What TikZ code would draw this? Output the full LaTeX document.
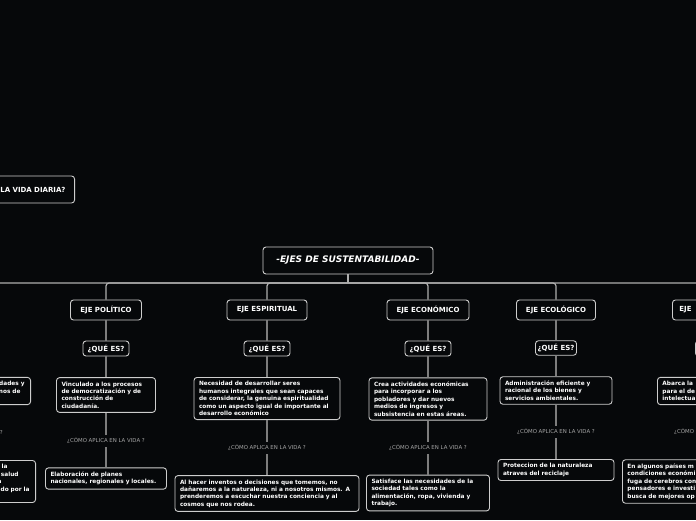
\documentclass[tikz,border=0pt]{standalone}
\usepackage{fontspec}
\setmainfont{DejaVu Sans}
\definecolor{fondo}{RGB}{6,8,10}
\definecolor{borde}{RGB}{205,205,205}
\definecolor{linea}{RGB}{125,125,125}
\definecolor{etiq}{RGB}{165,165,165}

\begin{document}
\begin{tikzpicture}[x=1pt,y=-1pt,
  caja/.style={draw=borde,line width=0.9pt,rounded corners=3pt,text=white,fill=fondo},
  titulo/.style={caja,font=\fontsize{9}{10}\selectfont\bfseries\itshape,minimum width=170pt,minimum height=27pt,inner xsep=0pt},
  eje/.style={caja,font=\fontsize{7}{8}\selectfont\bfseries,minimum height=20pt,inner xsep=0pt},
  quees/.style={caja,font=\fontsize{7}{8}\selectfont\bfseries,minimum height=15pt,minimum width=46pt,inner xsep=0pt},
  texto/.style={caja,font=\fontsize{5.8}{7.4}\selectfont\bfseries,align=left,inner xsep=5pt,inner ysep=4pt},
  aplica/.style={text=etiq,font=\fontsize{5.4}{6}\selectfont,inner sep=3pt},
  rama/.style={draw=linea,line width=1.2pt},
  bus/.style={draw=borde!85!black,line width=1.2pt,rounded corners=3pt}]
\useasboundingbox (0,0) rectangle (696,520);
\fill[fondo] (0,0) rectangle (696,520);
\clip (0,0) rectangle (696,520);

% titulo y pregunta de arriba
\node[caja,font=\fontsize{7}{8}\selectfont\bfseries,text width=100pt,align=right,
  inner xsep=9pt,minimum height=27pt,anchor=east] (vida) at (75,189.5) {LA VIDA DIARIA?};
\node[titulo] (ttl) at (348,260.5) {-EJES DE SUSTENTABILIDAD-};
\coordinate (hub) at (348,283);
\coordinate (lcol) at (-50,300);

% eje politico
\node[eje,minimum width=71pt] (ejePol) at (106,310) {EJE POLÍTICO};
\node[quees] (quePol) at (106,348.5) {¿QUÉ ES?};
\node[texto,text width=89pt] (defPol) at (106,395) {Vinculado a los procesos\\de democratización y de\\construcción de\\ciudadanía.};
\node[aplica] (lblPol) at (106,441) {¿CÓMO APLICA EN LA VIDA ?};
\node[texto,text width=111pt] (appPol) at (106,478.5) {Elaboración de planes\\nacionales, regionales y locales.};

% eje espiritual
\node[eje,minimum width=80pt] (ejeEsp) at (267,310) {EJE ESPIRITUAL};
\node[quees] (queEsp) at (267,348.5) {¿QUÉ ES?};
\node[texto,text width=136pt] (defEsp) at (267,398.5) {Necesidad de desarrollar seres\\humanos integrales que sean capaces\\de considerar, la genuina espiritualidad\\como un aspecto igual de importante al\\desarrollo económico};
\node[aplica] (lblEsp) at (267,448) {¿CÓMO APLICA EN LA VIDA ?};
\node[texto,text width=174pt] (appEsp) at (267,493.5) {Al hacer inventos o decisiones que tomemos, no\\dañaremos a la naturaleza, ni a nosotros mismos. A\\prenderemos a escuchar nuestra conciencia y al\\cosmos que nos rodea.};

% eje economico
\node[eje,minimum width=82pt] (ejeEco) at (428,310) {EJE ECONÓMICO};
\node[quees] (queEco) at (428,348.5) {¿QUÉ ES?};
\node[texto,text width=108pt] (defEco) at (428,399) {Crea actividades económicas\\para incorporar a los\\pobladores y dar nuevos\\medios de ingresos y\\subsistencia en estas áreas.};
\node[aplica] (lblEco) at (428,448) {¿CÓMO APLICA EN LA VIDA ?};
\node[texto,text width=113pt] (appEco) at (428,493) {Satisface las necesidades de la\\sociedad tales como la\\alimentación, ropa, vivienda y\\trabajo.};

% eje ecologico
\node[eje,minimum width=79pt] (ejeEcl) at (556,310) {EJE ECOLÓGICO};
\node[quees,minimum width=41pt,minimum height=14pt] (queEcl) at (556,348) {¿QUÉ ES?};
\node[texto,text width=102pt] (defEcl) at (556,390.5) {Administración eficiente y\\racional de los bienes y\\servicios ambientales.};
\node[aplica] (lblEcl) at (556,432) {¿CÓMO APLICA EN LA VIDA ?};
\node[texto,text width=106pt] (appEcl) at (556,470) {Proteccion de la naturaleza\\atraves del reciclaje};

% columna cortada a la derecha
\node[eje,text width=66pt,align=left,inner xsep=7pt,anchor=west] (ejeDer) at (672,310) {EJE};
\node[quees,anchor=west] (queDer) at (695,348.5) {};
\node[texto,text width=100pt,anchor=west] (defDer) at (657,391) {Abarca la\\para el de\\intelectua};
\node[aplica,anchor=west] (lblDer) at (671,432) {¿CÓMO};
\node[texto,text width=100pt,anchor=west] (appDer) at (622,481.5) {En algunos países m\\condiciones económi\\fuga de cerebros con\\pensadores e investi\\busca de mejores op};

% columna cortada a la izquierda
\node[texto,text width=80pt,align=right,inner xsep=6pt,anchor=east] (defIzq) at (31,391) {dades y\\nos de\rule{4pt}{0pt}\\~};
\node[aplica,anchor=east] (lblIzq) at (6,432) {?};
\node[texto,text width=80pt,align=right,inner xsep=6pt,anchor=east] (appIzq) at (36,481.5) {la\rule{22pt}{0pt}\\salud\rule{11pt}{0pt}\\a\rule{28pt}{0pt}\\ado por la\\~};

% conectores
\draw[bus] (ttl.south) -- (hub);
\draw[bus] (hub) -| (lcol);
\foreach \n in {ejePol,ejeEsp,ejeEco,ejeEcl,ejeDer}
  \draw[bus] (hub) -| (\n.north);
\foreach \c in {Pol,Esp,Eco,Ecl}{
  \draw[rama] (eje\c) -- (que\c);
  \draw[rama] (que\c) -- (def\c);
  \draw[rama] (def\c) -- (lbl\c);
  \draw[rama] (lbl\c) -- (app\c);
}
\end{tikzpicture}
\end{document}
